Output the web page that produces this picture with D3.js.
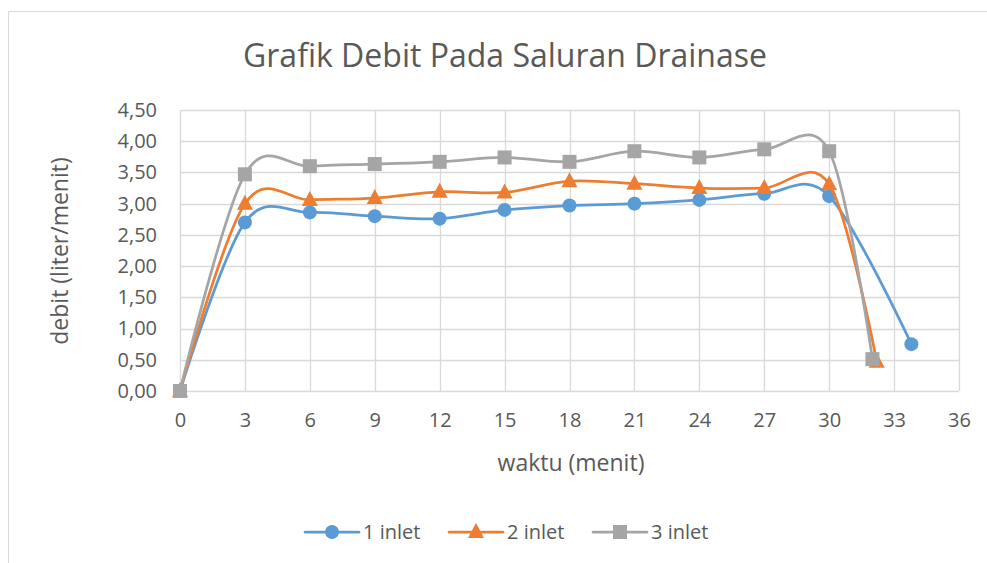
<!DOCTYPE html>
<html>
<head>
<meta charset="utf-8">
<script src="https://cdn.jsdelivr.net/npm/d3@7"></script>
<style>
  html, body { margin: 0; padding: 0; background: #fff; }
  svg { display: block; font-family: "Open Sans", sans-serif; }
</style>
</head>
<body>
<svg id="chart" width="987" height="563"></svg>
<script>
// ---- data ----
const chartTitle = "Grafik Debit Pada Saluran Drainase";
const xTitle = "waktu (menit)";
const yTitle = "debit (liter/menit)";
const seriesNames = ["1 inlet", "2 inlet", "3 inlet"];
const time1 = [0, 3, 6, 9, 12, 15, 18, 21, 24, 27, 30, 33.8];
const inlet1 = [0, 2.70, 2.86, 2.80, 2.76, 2.90, 2.97, 3.00, 3.06, 3.16, 3.12, 0.75];
const time2 = [0, 3, 6, 9, 12, 15, 18, 21, 24, 27, 30, 32.2];
const inlet2 = [0, 3.00, 3.06, 3.09, 3.19, 3.18, 3.36, 3.32, 3.25, 3.25, 3.31, 0.47];
const time3 = [0, 3, 6, 9, 12, 15, 18, 21, 24, 27, 30, 32];
const inlet3 = [0, 3.47, 3.60, 3.635, 3.67, 3.74, 3.67, 3.84, 3.74, 3.87, 3.84, 0.51];
const xTicks = [0, 3, 6, 9, 12, 15, 18, 21, 24, 27, 30, 33, 36];
const yTicks = [0, 0.5, 1, 1.5, 2, 2.5, 3, 3.5, 4, 4.5];

// ---- layout ----
const colors = ["#5B9BD5", "#ED7D31", "#A5A5A5"];
const shapes = ["circle", "triangle", "square"];
const textColor = "#595959";
const gridColor = "#d9d9d9";
const plot = { left: 180, right: 959, top: 110, bottom: 391 };

const svg = d3.select("#chart");

// chart area border (only top and left visible in the reference)
svg.append("path")
  .attr("d", "M8.5,563 V11.5 H987")
  .attr("fill", "none").attr("stroke", "#d9d9d9").attr("stroke-width", 1);

const x = d3.scaleLinear().domain([0, 36]).range([plot.left, plot.right]);
const y = d3.scaleLinear().domain([0, 4.5]).range([plot.bottom, plot.top]);

// gridlines
const grid = svg.append("g");
grid.selectAll("line.h").data(yTicks).join("line")
  .attr("x1", plot.left).attr("x2", plot.right)
  .attr("y1", d => Math.round(y(d)) + 0.5).attr("y2", d => Math.round(y(d)) + 0.5)
  .attr("stroke", gridColor).attr("stroke-width", 1.3);
grid.selectAll("line.v").data(xTicks).join("line")
  .attr("y1", plot.top).attr("y2", plot.bottom)
  .attr("x1", d => Math.round(x(d)) + 0.5).attr("x2", d => Math.round(x(d)) + 0.5)
  .attr("stroke", gridColor).attr("stroke-width", 1.3);

// axes (labels only; lines drawn as grid)
const fmt = d => d3.format(".2f")(d).replace(".", ",");
const yAxis = svg.append("g").attr("transform", `translate(${plot.left},0)`)
  .call(d3.axisLeft(y).tickValues(yTicks).tickFormat(fmt).tickSize(0).tickPadding(23));
yAxis.select(".domain").remove();
yAxis.selectAll("text").attr("fill", textColor).style("font-size", "20px")
  .style("font-family", "'Open Sans', sans-serif");

const xAxis = svg.append("g").attr("transform", `translate(0,${plot.bottom})`)
  .call(d3.axisBottom(x).tickValues(xTicks).tickFormat(d3.format("d")).tickSize(0).tickPadding(22));
xAxis.select(".domain").remove();
xAxis.selectAll("text").attr("fill", textColor).style("font-size", "20px")
  .style("font-family", "'Open Sans', sans-serif");

// titles
svg.append("text").attr("x", 505).attr("y", 67).attr("text-anchor", "middle")
  .attr("fill", textColor).style("font-size", "32px").text(chartTitle);
svg.append("text").attr("x", 571).attr("y", 471).attr("text-anchor", "middle")
  .attr("fill", textColor).style("font-size", "23px").text(xTitle);
svg.append("text").attr("transform", "translate(68,251) rotate(-90)").attr("text-anchor", "middle")
  .attr("fill", textColor).style("font-size", "23px").text(yTitle);

// series
const series = [
  { name: seriesNames[0], xs: time1, ys: inlet1 },
  { name: seriesNames[1], xs: time2, ys: inlet2 },
  { name: seriesNames[2], xs: time3, ys: inlet3 }
];
const line = d3.line().x(d => x(d[0])).y(d => y(d[1])).curve(d3.curveCardinal.tension(0));

function marker(g, shape, color, cx, cy) {
  if (shape === "circle") {
    g.append("circle").attr("cx", cx).attr("cy", cy).attr("r", 7).attr("fill", color);
  } else if (shape === "square") {
    g.append("rect").attr("x", cx - 7).attr("y", cy - 7).attr("width", 14).attr("height", 14).attr("fill", color);
  } else {
    g.append("path").attr("d", `M${cx},${cy - 9} L${cx + 8},${cy + 6} L${cx - 8},${cy + 6} Z`).attr("fill", color);
  }
}

series.forEach((s, i) => {
  const pts = s.xs.map((t, k) => [t, s.ys[k]]);
  const g = svg.append("g");
  g.append("path").attr("d", line(pts)).attr("fill", "none")
    .attr("stroke", colors[i]).attr("stroke-width", 2.75).attr("stroke-linejoin", "round").attr("stroke-linecap", "round");
  pts.forEach(p => marker(g, shapes[i], colors[i], x(p[0]), y(p[1])));
});

// legend
const legendX = [305, 449, 593];
const legendY = 532;
seriesNames.forEach((n, i) => {
  const g = svg.append("g");
  g.append("line").attr("x1", legendX[i]).attr("x2", legendX[i] + 54)
    .attr("y1", legendY).attr("y2", legendY)
    .attr("stroke", colors[i]).attr("stroke-width", 2.75).attr("stroke-linecap", "round");
  marker(g, shapes[i], colors[i], legendX[i] + 27, legendY);
  g.append("text").attr("x", legendX[i] + 58).attr("y", legendY + 7)
    .attr("fill", textColor).style("font-size", "20px").text(n);
});
</script>
</body>
</html>
